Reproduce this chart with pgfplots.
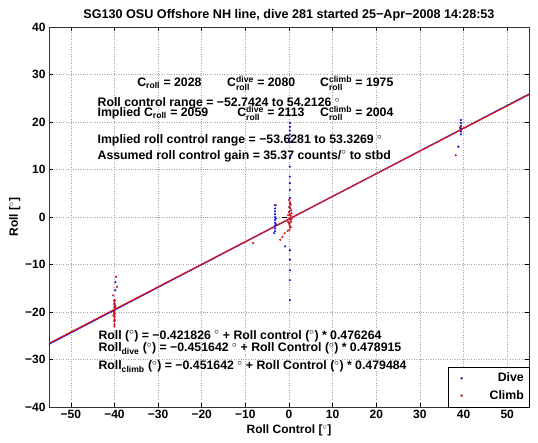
\documentclass[border=0pt]{standalone}
\usepackage{pgfplots}
\pgfplotsset{compat=1.18}
\usepackage{amsmath}
\usepackage{fontspec}
\setmainfont{Liberation Sans}
\definecolor{mblue}{rgb}{0.1,0.1,0.85}
\definecolor{mred}{rgb}{0.85,0.1,0.1}
\newcommand{\Cr}[1]{C$^{\text{#1}}_{\text{roll}}$}
\newcommand{\Cs}{C$_{\text{roll}}$}
\newcommand{\dg}{$^{\circ}$}
\pgfplotsset{dotlegend/.style={legend image code/.code={%
  \path[draw=none,fill=none] (0pt,-1pt) rectangle (36pt,1pt);
  \draw[##1, mark size=1pt] plot[only marks] coordinates {(10pt,0pt)};}}}
\begin{document}
\begin{tikzpicture}
\useasboundingbox (-49pt,-35pt) rectangle (489pt,407pt);
\begin{axis}[
  at={(0,0)}, anchor=south west,
  scale only axis, width=480pt, height=380pt,
  xmin=-55, xmax=55, ymin=-40, ymax=40,
  xtick={-50,-40,-30,-20,-10,0,10,20,30,40,50},
  ytick={-40,-30,-20,-10,0,10,20,30,40},
  xticklabels={−50,−40,−30,−20,−10,0,10,20,30,40,50},
  yticklabels={−40,−30,−20,−10,0,10,20,30,40},
  tick label style={font=\fontsize{12}{13}\selectfont\bfseries},
  tick align=inside, major tick length=4pt,
  tick style={black, line width=0.6pt},
  axis line style={black!80, line width=0.8pt},
  grid=major,
  major grid style={gray!70, dotted, line width=0.6pt},
  xlabel={Roll Control [\dg]},
  ylabel={Roll [\dg]},
  label style={font=\fontsize{12}{13}\selectfont\bfseries},
  xlabel style={yshift=1pt},
  ylabel style={yshift=-2pt},
  title={SG130 OSU Offshore NH line, dive 281 started 25−Apr−2008 14:28:53},
  title style={font=\fontsize{12.6}{14}\selectfont\bfseries, yshift=-4pt},
  legend style={at={(1,0)}, anchor=south east, draw=black, fill=white,
    font=\fontsize{12.3}{13}\selectfont\bfseries, legend cell align=right,
    inner xsep=3pt, inner ysep=4pt, row sep=3pt},
  clip=true,
]
% fit lines
\addplot[mblue, line width=1.2pt, forget plot] coordinates {(-55,-26.79) (55,25.89)};
\addplot[mred, line width=1.2pt, forget plot] coordinates {(-55,-26.60) (55,25.77)};
% Dive points
\addplot[only marks, mark=*, mark size=0.9pt, mblue, dotlegend] coordinates {
(-39.8,-13.7) (-39.8,-15.4) (-40,-17.5) (-40,-18.2) (-40,-19) (-40,-19.6)
(-40,-20.3) (-40,-21) (-40,-21.8) (-39.9,-18.6) (-40.1,-20)
(-3.2,2.5) (-3.2,1.8) (-3.2,1.2) (-3.2,0.6) (-3.2,0) (-3.2,-0.6) (-3.2,-1.2)
(-3.2,-1.8) (-3.2,-2.4) (-3.2,-3) (-3.4,-3.4) (-3.0,-0.3) (-3.0,-1.5)
(0.2,19.8) (0.2,19.0) (0.2,18.2) (0.2,17.4) (0.2,16.6) (0.2,15.8)
(0.2,12.7) (0.2,10.6) (0.2,8.5) (0.2,7.1) (0.2,5.7) (0.2,4.0) (0.2,2.9)
(0.1,2.0) (0.1,1.2) (0.3,0.4) (0.3,-0.5) (0.1,-1.3) (0.3,-2.1)
(-0.9,-6.2) (0.2,-7.0) (0.2,-9.0) (0.2,-11.2) (0.2,-13.3) (0.2,-17.5)
(39.4,20.4) (39.4,19.8) (39.4,19.2) (39.4,18.6) (39.4,18.0) (39.4,17.4)
(39.2,18.8) (38.8,14.8)
};
\addlegendentry{Dive}
% Climb points
\addplot[only marks, mark=*, mark size=0.9pt, mred, dotlegend] coordinates {
(-39.6,-12.6) (-39.4,-14.7) (-40.3,-16.5) (-40,-17.5) (-40,-17.8) (-40,-18.4)
(-40,-19) (-40,-19.5) (-40,-20) (-40,-20.5) (-40,-21) (-40,-21.5) (-40,-22)
(-40,-22.6) (-40,-23) (-39.8,-18.9) (-40.2,-20.8)
(-8.2,-5.5) (-3.0,2.5)
(0.0,3.6) (0.2,3.1) (0.4,2.6) (0.1,2.2) (0.3,1.8) (0.5,1.4) (0.0,1.0)
(0.2,0.6) (0.4,0.2) (0.1,-0.2) (0.3,-0.6) (0.5,-1.0) (0.0,-1.4) (0.2,-1.8)
(0.4,-2.2) (0.1,-2.7) (0.6,0.8) (0.6,-0.4) (-0.2,0.4) (-0.2,-1.0)
(-1.0,-3.4) (-1.5,-4.2) (-2.0,-4.8) (-0.3,-2.9)
(39.4,19.0) (39.4,18.3) (38.2,13.0)
};
\addlegendentry{Climb}
\addplot[only marks, mark=-, mark size=2.5pt, black, forget plot] coordinates {(-1,0)};
% annotations
\begin{scope}[every node/.style={font=\fontsize{12.3}{13}\selectfont\bfseries, inner sep=0pt}]
\node[anchor=base west] at (axis cs:-34.8,27.4) {\Cs{} = 2028};
\node[anchor=base west] at (axis cs:-14.2,27.4) {\Cr{dive} = 2080};
\node[anchor=base west] at (axis cs:7.1,27.4) {\Cr{climb} = 1975};
\node[anchor=base west] at (axis cs:-43.9,23.2) {Roll control range = −52.7424 to 54.2126 \dg};
\node[anchor=base west] at (axis cs:-43.9,21.1) {Implied \Cs{} = 2059};
\node[anchor=base west] at (axis cs:-11.9,21.1) {\Cr{dive} = 2113};
\node[anchor=base west] at (axis cs:7.1,21.1) {\Cr{climb} = 2004};
\node[anchor=base west] at (axis cs:-43.9,15.4) {Implied roll control range = −53.6281 to 53.3269 \dg};
\node[anchor=base west] at (axis cs:-43.9,12.2) {Assumed roll control gain = 35.37 counts/\dg{} to stbd};
\node[anchor=base west] at (axis cs:-43.7,-25.7) {Roll (\dg) = −0.421826 \dg{} + Roll control (\dg) * 0.476264};
\node[anchor=base west] at (axis cs:-43.7,-28.4) {Roll$_{\text{dive}}$ (\dg) = −0.451642 \dg{} + Roll Control (\dg) * 0.478915};
\node[anchor=base west] at (axis cs:-43.7,-32.2) {Roll$_{\text{climb}}$ (\dg) = −0.451642 \dg{} + Roll Control (\dg) * 0.479484};
\end{scope}
\end{axis}
\end{tikzpicture}
\end{document}
